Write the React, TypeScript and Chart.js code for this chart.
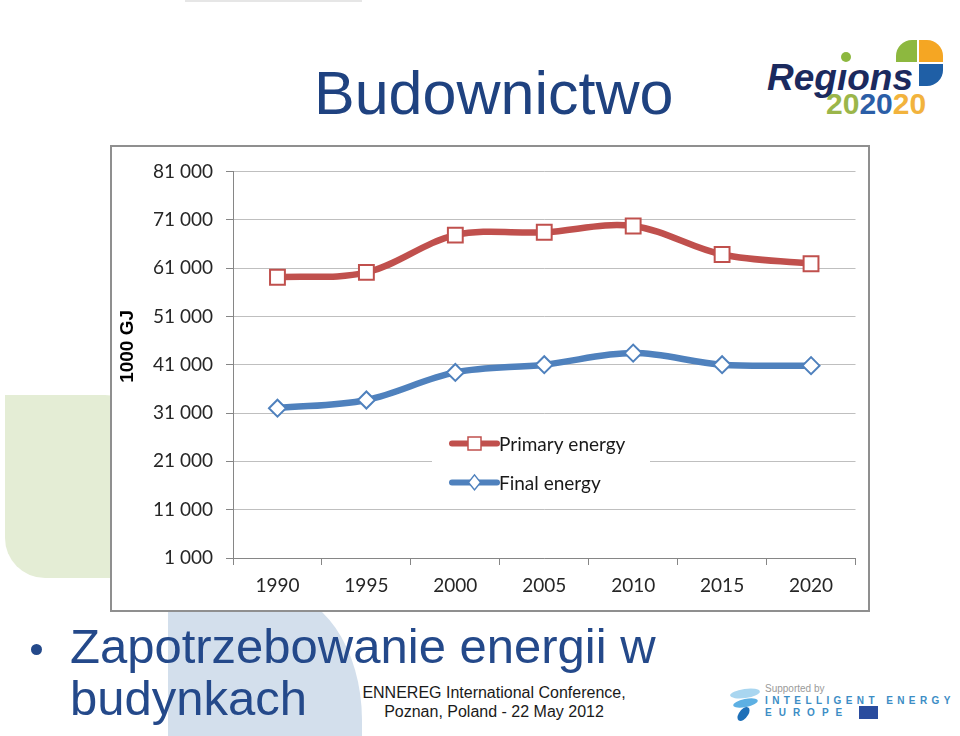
import React, { useEffect, useRef } from 'react';
import { Chart, registerables } from 'chart.js';

Chart.register(...registerables);

// ---------- data ----------
const YEARS = ['1990', '1995', '2000', '2005', '2010', '2015', '2020'];
const PRIMARY_ENERGY = [59100, 60100, 67800, 68400, 69700, 63800, 61900];
const FINAL_ENERGY = [32000, 33700, 39400, 41000, 43400, 41000, 40800];
const Y_TICKS = [1000, 11000, 21000, 31000, 41000, 51000, 61000, 71000, 81000];
const SERIES_LABELS = ['Primary energy', 'Final energy'];
const AXIS_TITLE = '1000 GJ';

const RED = '#C0504D';
const BLUE = '#4F81BD';
const CHART_FONT = 'Lato';

const fmt = (v: number) => String(v).replace(/\B(?=(\d{3})+(?!\d))/g, ' ');

const insideLegend = {
  id: 'insideLegend',
  afterDraw(chart: any) {
    const { ctx, chartArea } = chart;
    const bx = chartArea.left + 199;
    const by = chartArea.top + 256;
    ctx.save();
    ctx.fillStyle = '#ffffff';
    ctx.fillRect(bx, by, 218, 72);
    chart.data.datasets.forEach((ds: any, i: number) => {
      const y = chartArea.top + 272 + i * 39;
      const x0 = chartArea.left + 219;
      const x1 = chartArea.left + 264;
      const cx = (x0 + x1) / 2;
      ctx.strokeStyle = ds.borderColor;
      ctx.lineWidth = 6;
      ctx.lineCap = 'round';
      ctx.beginPath();
      ctx.moveTo(x0, y);
      ctx.lineTo(x1, y);
      ctx.stroke();
      ctx.lineCap = 'butt';
      ctx.fillStyle = '#ffffff';
      ctx.lineWidth = 1.5;
      ctx.beginPath();
      if (ds.pointStyle === 'rect') {
        ctx.rect(cx - 6.5, y - 6.5, 13, 13);
      } else {
        ctx.moveTo(cx, y - 7.5);
        ctx.lineTo(cx + 6, y);
        ctx.lineTo(cx, y + 7.5);
        ctx.lineTo(cx - 6, y);
        ctx.closePath();
      }
      ctx.fill();
      ctx.stroke();
      ctx.fillStyle = '#1a1a1a';
      ctx.font = `19px ${CHART_FONT}`;
      ctx.textBaseline = 'middle';
      ctx.textAlign = 'left';
      ctx.fillText(ds.label, chartArea.left + 266, y + 1);
    });
    ctx.restore();
  },
};

// y-axis title drawn at the position it has in the reference (slightly above the axis centre)
const axisTitle = {
  id: 'axisTitle',
  afterDraw(chart: any) {
    const { ctx, chartArea } = chart;
    ctx.save();
    ctx.translate(16, chartArea.top + 175);
    ctx.rotate(-Math.PI / 2);
    ctx.fillStyle = '#000000';
    ctx.font = 'bold 19px "Liberation Sans", Arial, sans-serif';
    ctx.textAlign = 'center';
    ctx.textBaseline = 'middle';
    ctx.fillText(AXIS_TITLE, 0, 0);
    ctx.restore();
  },
};

function EnergyChart() {
  const ref = useRef<HTMLCanvasElement | null>(null);
  useEffect(() => {
    if (!ref.current) return;
    const chart = new Chart(ref.current, {
      type: 'line',
      data: {
        labels: YEARS,
        datasets: [
          {
            label: SERIES_LABELS[0],
            data: PRIMARY_ENERGY,
            borderColor: RED,
            backgroundColor: RED,
            borderWidth: 6.5,
            tension: 0.35,
            pointStyle: 'rect',
            pointRadius: 10.5,
            pointBorderWidth: 2,
            pointBorderColor: RED,
            pointBackgroundColor: '#ffffff',
          },
          {
            label: SERIES_LABELS[1],
            data: FINAL_ENERGY,
            borderColor: BLUE,
            backgroundColor: BLUE,
            borderWidth: 6.5,
            tension: 0.35,
            pointStyle: 'rectRot',
            pointRadius: 8.5,
            pointBorderWidth: 2,
            pointBorderColor: BLUE,
            pointBackgroundColor: '#ffffff',
          },
        ],
      },
      options: {
        animation: false,
        responsive: false,
        maintainAspectRatio: false,
        layout: { padding: { left: 0, right: 10, top: 22, bottom: 0 } },
        plugins: { legend: { display: false }, tooltip: { enabled: false } },
        scales: {
          x: {
            type: 'category',
            offset: true,
            grid: {
              offset: true,
              drawOnChartArea: false,
              drawTicks: true,
              tickLength: 7,
              color: '#868686',
            },
            border: { display: true, color: '#868686', width: 1 },
            ticks: {
              font: { family: CHART_FONT, size: 19 },
              color: '#262626',
              padding: 9,
              maxRotation: 0,
            },
            afterFit: (s: any) => {
              s.height = 52;
            },
          },
          y: {
            min: 1000,
            max: 81000,
            afterBuildTicks: (s: any) => {
              s.ticks = Y_TICKS.map((v) => ({ value: v }));
            },
            grid: { color: '#BFBFBF', tickColor: '#868686', tickLength: 7 },
            border: { display: true, color: '#868686', width: 1 },
            ticks: {
              font: { family: CHART_FONT, size: 19 },
              color: '#262626',
              padding: 13,
              callback: (v: any) => fmt(Number(v)),
            },
            title: { display: false },
            afterFit: (s: any) => {
              s.width = 121;
            },
          },
        },
      },
      plugins: [insideLegend, axisTitle],
    } as any);
    return () => chart.destroy();
  }, []);
  return <canvas ref={ref} width={756} height={463} style={{ display: 'block', width: 756, height: 463 }} />;
}

const abs = (o: React.CSSProperties): React.CSSProperties => ({ position: 'absolute', ...o });

function Text({ x, baseline, size, children, style }: { x: number; baseline: number; size: number; children: React.ReactNode; style?: React.CSSProperties }) {
  return (
    <div
      style={abs({
        left: x,
        top: baseline - 0.8465 * size,
        fontSize: size,
        lineHeight: 1,
        whiteSpace: 'nowrap',
        fontFamily: '"Liberation Sans", Arial, sans-serif',
        ...style,
      })}
    >
      {children}
    </div>
  );
}

export default function App() {
  return (
    <div
      style={{
        position: 'fixed',
        left: 0,
        top: 0,
        width: 960,
        height: 736,
        background: '#ffffff',
        overflow: 'hidden',
        fontFamily: '"Liberation Sans", Arial, sans-serif',
      }}
    >
      {/* decorative shapes */}
      <div style={abs({ left: 185, top: 0, width: 177, height: 2, background: '#e6e6e6' })} />
      <div
        style={abs({
          left: 5,
          top: 395,
          width: 130,
          height: 183,
          background: '#E4EDD5',
          borderTopRightRadius: 30,
          borderBottomLeftRadius: 40,
        })}
      />
      <div
        style={abs({
          left: 168,
          top: 590,
          width: 194,
          height: 160,
          background: '#D3DFEC',
          borderTopRightRadius: '90px 130px',
        })}
      />

      {/* title */}
      <Text x={314} baseline={115} size={61} style={{ color: '#1F4280' }}>
        Budownictwo
      </Text>

      {/* Regions 202020 logo */}
      <div style={abs({ left: 896, top: 40, width: 21, height: 22, background: '#8DB83F', borderTopLeftRadius: 16 })} />
      <div style={abs({ left: 919, top: 40, width: 24, height: 22, background: '#F5A623', borderTopRightRadius: 16 })} />
      <div style={abs({ left: 919, top: 64, width: 24, height: 22, background: '#1F5FA6', borderBottomRightRadius: 16 })} />
      <Text x={767} baseline={90} size={37} style={{ color: '#1B2A5E', fontWeight: 'bold', fontStyle: 'italic' }}>
        Regıons
      </Text>
      <div style={abs({ left: 841, top: 52, width: 10, height: 10, borderRadius: 5, background: '#8DB83F' })} />
      <Text x={826} baseline={114} size={30} style={{ fontWeight: 'bold' }}>
        <span style={{ color: '#9BB64A' }}>20</span>
        <span style={{ color: '#2B5EA7' }}>20</span>
        <span style={{ color: '#F2B33D' }}>20</span>
      </Text>

      {/* chart box */}
      <div
        style={abs({
          left: 110,
          top: 145,
          width: 756,
          height: 463,
          border: '2px solid #8f8f8f',
          background: '#ffffff',
        })}
      >
        <EnergyChart />
      </div>

      {/* bullet text */}
      <div style={abs({ left: 31, top: 644, width: 11, height: 11, borderRadius: 6, background: '#24498A' })} />
      <Text x={70} baseline={663} size={49} style={{ color: '#24498A' }}>
        Zapotrzebowanie energii w
      </Text>
      <Text x={70} baseline={715} size={49} style={{ color: '#24498A' }}>
        budynkach
      </Text>

      {/* footer */}
      <div
        style={abs({
          left: 344,
          top: 683,
          width: 300,
          textAlign: 'center',
          fontSize: 16,
          lineHeight: '19px',
          color: '#1a1a1a',
        })}
      >
        ENNEREG International Conference,
        <br />
        Poznan, Poland - 22 May 2012
      </div>

      {/* Supported by IEE logo */}
      <div style={abs({ left: 730, top: 689, width: 30, height: 9, borderRadius: '50%', background: '#A9D6F0', transform: 'rotate(-8deg)' })} />
      <div style={abs({ left: 733, top: 699, width: 25, height: 8, borderRadius: '50%', background: '#5DB0E3', transform: 'rotate(-12deg)' })} />
      <div style={abs({ left: 739, top: 706, width: 9, height: 16, borderRadius: '60% 40%', background: '#1E70B8', transform: 'rotate(30deg)' })} />
      <Text x={765} baseline={692} size={10} style={{ color: '#9a9a9a' }}>
        Supported by
      </Text>
      <Text x={765} baseline={704} size={10} style={{ color: '#3C8DC5', fontWeight: 'bold', letterSpacing: 4.4 }}>
        INTELLIGENT ENERGY
      </Text>
      <Text x={765} baseline={716} size={10} style={{ color: '#3C8DC5', fontWeight: 'bold', letterSpacing: 7 }}>
        EUROPE
      </Text>
      <div style={abs({ left: 859, top: 706, width: 19, height: 13, background: '#2A4C9E' })} />
    </div>
  );
}
